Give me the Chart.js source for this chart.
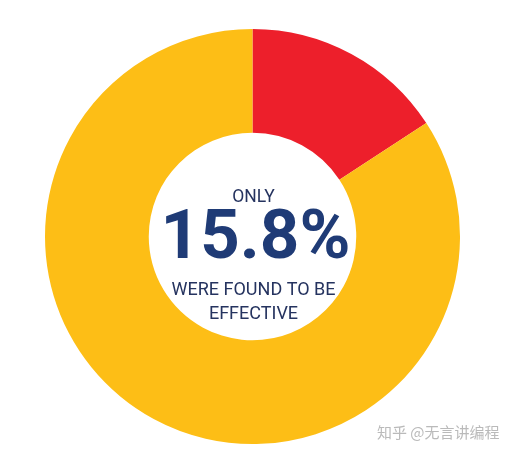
<!DOCTYPE html>
<html>
<head>
<meta charset="utf-8">
<script src="https://cdn.jsdelivr.net/npm/chart.js@4/dist/chart.umd.min.js"></script>
<style>
  html, body { margin: 0; padding: 0; background: #fff; }
  #wrap { width: 516px; height: 454px; position: relative; }
</style>
</head>
<body>
<div id="wrap"><canvas id="c" width="516" height="454"></canvas></div>
<script>
// Share of treatments found effective
const categories = ['Effective', 'Not effective'];
const shares = [15.8, 84.2];
const sliceColors = ['#ed1f2b', '#fdbe16'];

const centerLabel = {
  id: 'centerLabel',
  afterDraw(chart) {
    const { ctx } = chart;
    const arc = chart.getDatasetMeta(0).data[0];
    const cx = arc.x, cy = arc.y;
    ctx.save();
    ctx.textAlign = 'center';
    ctx.textBaseline = 'middle';

    ctx.fillStyle = '#25335f';
    ctx.font = '17.5px Roboto';
    ctx.fillText('ONLY', cx + 1, cy - 39);

    ctx.fillStyle = '#1f3b76';
    ctx.font = 'bold 69px Roboto';
    ctx.fillText(shares[0] + '%', cx + 3, cy + 4);

    ctx.fillStyle = '#25335f';
    ctx.font = '18px Roboto';
    ctx.fillText('WERE FOUND TO BE', cx + 1, cy + 54);
    ctx.fillText('EFFECTIVE', cx + 1, cy + 78);

    // watermark
    ctx.textAlign = 'left';
    ctx.fillStyle = '#bababa';
    ctx.font = '15px "Noto Sans CJK SC"';
    ctx.fillText('知乎 @无言讲编程', 377, 432);
    ctx.restore();
  }
};

new Chart(document.getElementById('c').getContext('2d'), {
  type: 'doughnut',
  data: {
    labels: categories,
    datasets: [{
      data: shares,
      backgroundColor: sliceColors,
      borderWidth: 0,
      hoverOffset: 0
    }]
  },
  options: {
    responsive: false,
    animation: false,
    cutout: '50%',
    layout: { padding: { top: 29, bottom: 10, left: 45, right: 56 } },
    plugins: {
      legend: { display: false },
      tooltip: { enabled: false }
    }
  },
  plugins: [centerLabel]
});
</script>
</body>
</html>
